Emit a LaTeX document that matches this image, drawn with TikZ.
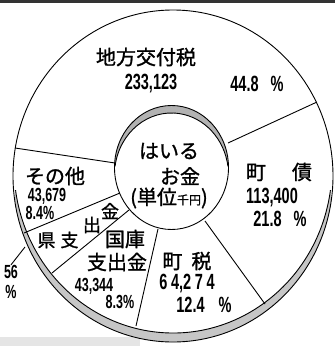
\documentclass[tikz,border=0pt]{standalone}
\usepackage{fontspec}
\usetikzlibrary{calc}
\newfontfamily\jpfont{Noto Sans CJK JP}[FakeBold=1.2]
\newfontfamily\numfont{Liberation Sans}[FakeStretch=0.66]

\begin{document}
\begin{tikzpicture}[x=1pt,y=-1pt,line width=0.9pt,
    jp/.style={inner sep=0pt,font=\jpfont\fontsize{20}{20}\selectfont},
    jpsmall/.style={inner sep=0pt,font=\jpfont\fontsize{18}{18}\selectfont},
    num/.style={inner sep=0pt,font=\numfont\bfseries\fontsize{22}{22}\selectfont},
    numsmall/.style={inner sep=0pt,font=\numfont\bfseries\fontsize{19}{19}\selectfont}]
\useasboundingbox (0,0) rectangle (335,346);
% page edge
\fill[gray!20] (0,337) rectangle (140,346);
\fill[black!80] (0,0) rectangle (335,3);

% outer ring, shaded rim at the bottom
\fill[gray!45] (173,176) ++(8:160 and 166) arc[start angle=8,end angle=172,x radius=160,y radius=166]
    -- ($(173,167)+(172:159 and 166)$) arc[start angle=172,end angle=8,x radius=159,y radius=166] -- cycle;
\draw (173,176) ellipse [x radius=160,y radius=166];
\draw (173,167) ++(8:159 and 166) arc[start angle=8,end angle=172,x radius=159,y radius=166];

% inner disc, shaded rim at the top
\fill[gray!60] (171.5,167.5) ++(-172:57 and 62) arc[start angle=-172,end angle=-8,x radius=57,y radius=62]
    -- ($(171.5,175)+(-8:57 and 62)$) arc[start angle=-8,end angle=-172,x radius=57,y radius=62] -- cycle;
\draw (171.5,167.5) ellipse [x radius=57,y radius=62];
\draw (171.5,175) ++(-172:57 and 62) arc[start angle=-172,end angle=-8,x radius=57,y radius=62];

% slices
\draw (228,143) -- (317,102);
\draw (15,148) -- (115,163);
\draw (24,233) -- (120,193);
\draw (52,273) -- (129,210);
\draw (158,229) -- (136,326);
\draw (205,221) -- (265,304);

% centre
\node[jp] (hairu) at (169,151) {はいる};
\node[jp] (okane) at (180,176) {お金};
\node[jp] (tani) at (169,198) {(単位{\fontsize{12}{12}\selectfont 千円})};

% 地方交付税
\node[jp] (chiho) at (146,57) {地方交付税};
\node[num] (chihoV) at (151,84) {233,123};
\node[num] (chihoP) at (257,84) {44.8\hspace{12pt}\%};

% 町債
\node[jp] (sai) at (279,172) {町\hspace{26pt}債};
\node[num] (saiV) at (272,198) {113,400};
\node[num] (saiP) at (280,219) {21.8\hspace{12pt}\%};

% 町税
\node[jp] (zei) at (187,261) {町\hspace{9pt}税};
\node[num] (zeiV) at (187,284) {6\,4,2\,7\,4};
\node[num] (zeiP) at (204,305) {12.4\hspace{14pt}\%};

% 国庫支出金
\node[jp] (koku) at (125,239) {国庫};
\node[jp] (kokuB) at (117,262) {支出金};
\node[numsmall] (kokuV) at (94,286) {43,344};
\node[numsmall] (kokuP) at (120,302) {8.3\%};

% 県支出金
\node[jpsmall] (ken) at (58,240) {県\hspace{5pt}支};
\node[jpsmall] (kenA) at (92,225) {出};
\node[jpsmall] (kenB) at (110,211) {金};
\node[numsmall,align=center] (kenP) at (11,282) {56\\[1pt]\%};
\coordinate (kenT) at (25,247);
\draw (kenP.north) -- (kenT);

% その他
\node[jp] (sonota) at (55,176) {その他};
\node[numsmall] (sonotaV) at (47,196) {43,679};
\node[numsmall] (sonotaP) at (40,213) {8.4\%};
\end{tikzpicture}
\end{document}
